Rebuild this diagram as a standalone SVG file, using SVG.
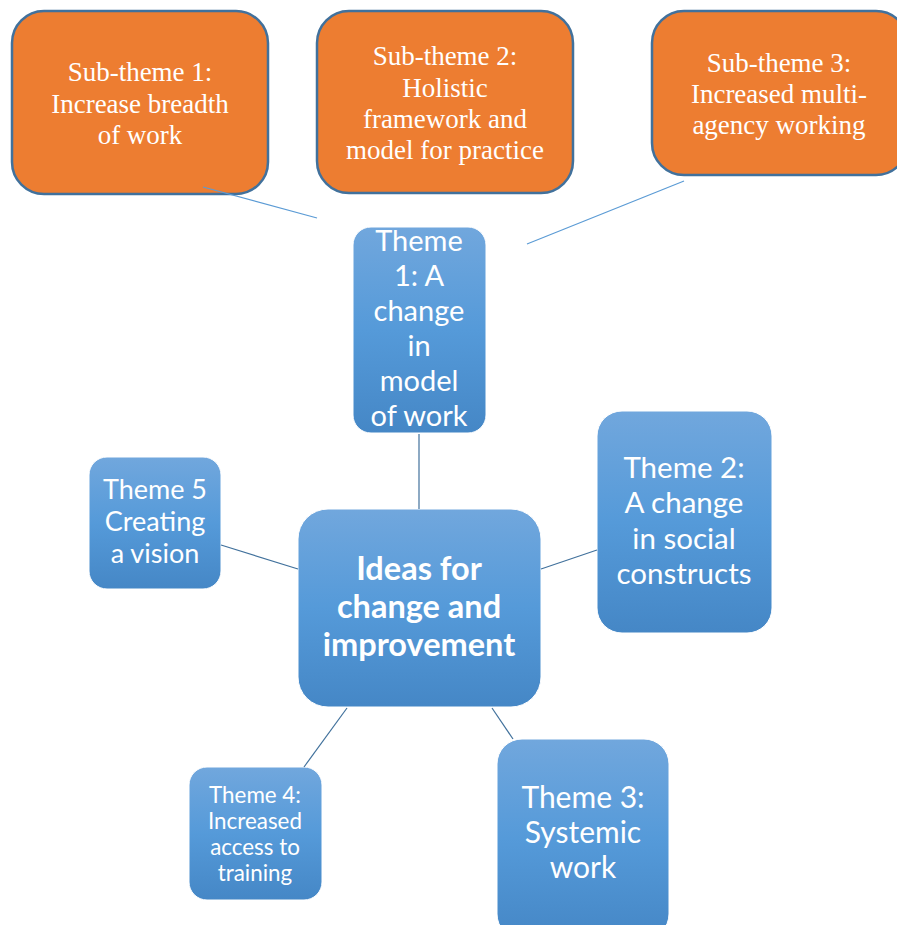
<svg xmlns="http://www.w3.org/2000/svg" width="897" height="925" viewBox="0 0 897 925">
<style>
.sub{fill:#ed7d31;stroke:#41719c;stroke-width:2.5}
.st{font-family:"Liberation Serif","Times New Roman",serif;font-size:27px;fill:#fff;text-anchor:middle}
.th{fill:url(#g);stroke:#fff;stroke-width:1}
.tt{font-family:Lato,"Open Sans",sans-serif;fill:#fff;text-anchor:middle}
.c1{stroke:#5b9bd5;stroke-width:1.2;fill:none}
.c2{stroke:#41719c;stroke-width:1.2;fill:none}
</style>
<defs>
<linearGradient id="g" x1="0" y1="0" x2="0" y2="1">
<stop offset="0" stop-color="#71a7dd"/>
<stop offset="0.5" stop-color="#559ad9"/>
<stop offset="1" stop-color="#4587c6"/>
</linearGradient>
</defs>
<rect width="897" height="925" fill="#fff"/>
<g id="sub1">
<rect class="sub" x="12" y="11" width="256" height="183" rx="32"/>
<text class="st" x="140" y="81">Sub-theme 1:</text>
<text class="st" x="140" y="113">Increase breadth</text>
<text class="st" x="140" y="144">of work</text>
</g>
<g id="sub2">
<rect class="sub" x="317" y="11" width="256" height="182" rx="32"/>
<text class="st" x="445" y="65">Sub-theme 2:</text>
<text class="st" x="445" y="97">Holistic</text>
<text class="st" x="445" y="128">framework and</text>
<text class="st" x="445" y="159">model for practice</text>
</g>
<g id="sub3">
<rect class="sub" x="652" y="11" width="256" height="164" rx="32"/>
<text class="st" x="779" y="72">Sub-theme 3:</text>
<text class="st" x="779" y="103">Increased multi-</text>
<text class="st" x="779" y="134">agency working</text>
</g>
<g id="theme1">
<rect class="th" x="353" y="227" width="133" height="206" rx="18"/>
<text class="tt" font-size="29" x="419" y="251">Theme</text>
<text class="tt" font-size="29" x="419" y="286">1: A</text>
<text class="tt" font-size="29" x="419" y="321">change</text>
<text class="tt" font-size="29" x="419" y="356">in</text>
<text class="tt" font-size="29" x="419" y="391">model</text>
<text class="tt" font-size="29" x="419" y="426">of work</text>
</g>
<g id="center">
<rect class="th" x="298" y="509" width="243" height="198" rx="30"/>
<text class="tt" font-size="32.5" font-weight="bold" x="419" y="580">Ideas for</text>
<text class="tt" font-size="32.5" font-weight="bold" x="419" y="618">change and</text>
<text class="tt" font-size="32.5" font-weight="bold" x="419" y="656">improvement</text>
</g>
<g id="theme2">
<rect class="th" x="597" y="411" width="175" height="222" rx="25"/>
<text class="tt" font-size="29.5" x="684" y="478">Theme 2:</text>
<text class="tt" font-size="29.5" x="684" y="513">A change</text>
<text class="tt" font-size="29.5" x="684" y="549">in social</text>
<text class="tt" font-size="29.5" x="684" y="584">constructs</text>
</g>
<g id="theme5">
<rect class="th" x="89" y="457" width="132" height="132" rx="18"/>
<text class="tt" font-size="27" x="155" y="499">Theme 5</text>
<text class="tt" font-size="27" x="155" y="531">Creating</text>
<text class="tt" font-size="27" x="155" y="563">a vision</text>
</g>
<g id="theme4">
<rect class="th" x="189" y="767" width="133" height="133" rx="18"/>
<text class="tt" font-size="22.4" x="255" y="803">Theme 4:</text>
<text class="tt" font-size="22.4" x="255" y="829">Increased</text>
<text class="tt" font-size="22.4" x="255" y="855">access to</text>
<text class="tt" font-size="22.4" x="255" y="881">training</text>
</g>
<g id="theme3">
<rect class="th" x="497" y="739" width="172" height="200" rx="25"/>
<text class="tt" font-size="30" x="583" y="808">Theme 3:</text>
<text class="tt" font-size="30" x="583" y="843">Systemic</text>
<text class="tt" font-size="30" x="583" y="878">work</text>
</g>
<g id="connectors">
<line class="c1" x1="203" y1="187" x2="317" y2="218"/>
<line class="c1" x1="527" y1="244" x2="684" y2="181"/>
<line class="c2" x1="419" y1="434" x2="419" y2="509"/>
<line class="c2" x1="541" y1="569" x2="597" y2="550"/>
<line class="c2" x1="221" y1="545" x2="298" y2="569"/>
<line class="c2" x1="304" y1="767" x2="347" y2="708"/>
<line class="c2" x1="492" y1="708" x2="513" y2="739"/>
</g>
</svg>
